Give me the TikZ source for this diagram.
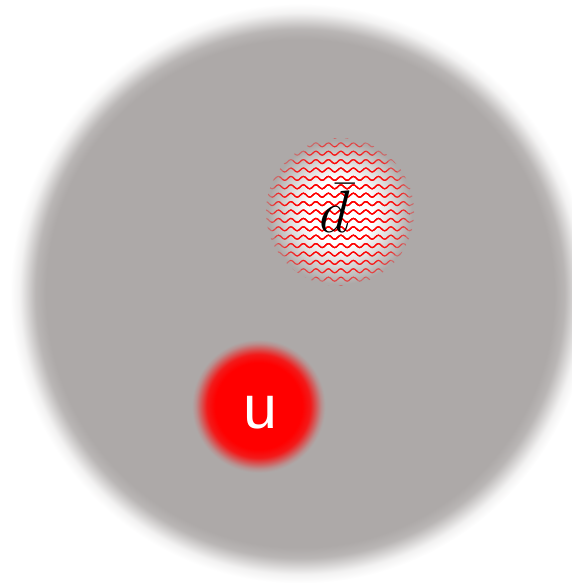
\RequirePackage{fix-cm}
\documentclass[tikz,border=0pt]{standalone}
\usepackage{fontspec}
\newfontfamily\quarkfont{Liberation Sans}
\usetikzlibrary{decorations.pathmorphing}

\definecolor{hadgrey}{RGB}{173,169,168}
\pgfdeclareradialshading{hadron}{\pgfpointorigin}{color(0bp)=(hadgrey); color(21.9bp)=(hadgrey); color(22.8bp)=(hadgrey!85); color(23.5bp)=(hadgrey!50); color(24.2bp)=(hadgrey!15); color(25bp)=(white); color(50bp)=(white)}
\pgfdeclareradialshading{quarkblob}{\pgfpointorigin}{color(0bp)=(red); color(16bp)=(red); color(19bp)=(red!85!hadgrey); color(21bp)=(red!50!hadgrey); color(23bp)=(red!15!hadgrey); color(24.5bp)=(hadgrey); color(50bp)=(hadgrey)}
\pgfdeclareradialshading{antiblob}{\pgfpointorigin}{color(0bp)=(white); color(11bp)=(white); color(17bp)=(white!60!hadgrey); color(24bp)=(hadgrey); color(50bp)=(hadgrey)}

\begin{document}
\begin{tikzpicture}[x=1pt, y=1pt,
    wave/.style={red, line width=1.1pt, decorate,
      decoration={snake, segment length=12.5pt, amplitude=2pt}}]
  \useasboundingbox (0,0) rectangle (572,583);
  \coordinate (hadron) at (300,289.5);
  \coordinate (anti) at (340,371);
  \coordinate (quark) at (258.5,177);
  % blurred proton body
  \shade[shading=hadron] (hadron) circle (290);
  % antiquark cloud
  \shade[shading=antiblob] (anti) circle (75);
  \foreach \r in {74,70,...,30}{
    \begin{scope}
      \clip (anti) circle (\r);
      \foreach \k in {-9,...,9}
        \draw[wave, opacity=0.38] ([shift={(-78,\k*8.4)}]anti) -- ([shift={(78,\k*8.4)}]anti);
    \end{scope}
  }
  % quark
  \shade[shading=quarkblob] (quark) circle (68);
  \node[anchor=base, inner sep=0pt, font=\fontsize{60}{68}\selectfont] (dbar) at (335,350) {$\bar{d}$};
  \node[anchor=base, inner sep=0pt, text=white, font=\quarkfont\fontsize{61}{70}\selectfont] (u) at (260,154) {u};
\end{tikzpicture}
\end{document}
